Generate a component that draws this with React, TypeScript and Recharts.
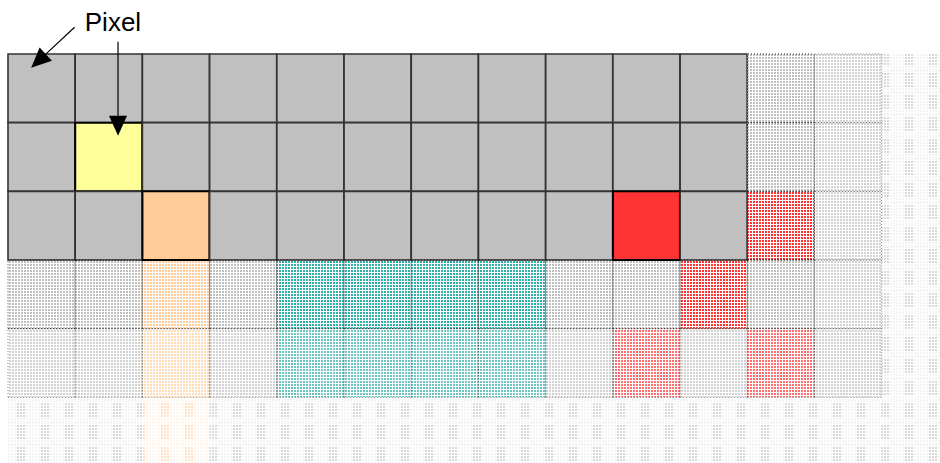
import React from 'react';
import { BarChart, Bar, Cell, XAxis, YAxis, ReferenceLine, ReferenceDot } from 'recharts';

// one entry per column of the pixel grid
const columns = ['c0', 'c1', 'c2', 'c3', 'c4', 'c5', 'c6', 'c7', 'c8', 'c9', 'c10', 'c11', 'c12', 'c13'];

// colour code of every pixel, row by row (g grey, y yellow, p peach, r red, t teal)
const row0 = ['g', 'g', 'g', 'g', 'g', 'g', 'g', 'g', 'g', 'g', 'g', 'g', 'g', 'g'];
const row1 = ['g', 'y', 'g', 'g', 'g', 'g', 'g', 'g', 'g', 'g', 'g', 'g', 'g', 'g'];
const row2 = ['g', 'g', 'p', 'g', 'g', 'g', 'g', 'g', 'g', 'r', 'g', 'r', 'g', 'g'];
const row3 = ['g', 'g', 'p', 'g', 't', 't', 't', 't', 'g', 'g', 'r', 'g', 'g', 'g'];
const row4 = ['g', 'g', 'p', 'g', 't', 't', 't', 't', 'g', 'r', 'g', 'r', 'g', 'g'];
const row5 = ['g', 'g', 'p', 'g', 'g', 'g', 'g', 'g', 'g', 'g', 'g', 'g', 'g', 'g'];

// how far each pixel has faded out (0 solid .. 3 almost gone)
const fade0 = [0, 0, 0, 0, 0, 0, 0, 0, 0, 0, 0, 1, 2, 3];
const fade1 = [0, 0, 0, 0, 0, 0, 0, 0, 0, 0, 0, 1, 2, 3];
const fade2 = [0, 0, 0, 0, 0, 0, 0, 0, 0, 0, 0, 1, 2, 3];
const fade3 = [1, 1, 1, 1, 1, 1, 1, 1, 1, 1, 1, 1, 2, 3];
const fade4 = [2, 2, 2, 2, 2, 2, 2, 2, 2, 2, 2, 2, 2, 3];
const fade5 = [3, 3, 3, 3, 3, 3, 3, 3, 3, 3, 3, 3, 3, 3];

const rowColors = [row0, row1, row2, row3, row4, row5];
const rowFades = [fade0, fade1, fade2, fade3, fade4, fade5];
const rowKeys = ['r0', 'r1', 'r2', 'r3', 'r4', 'r5'];

// annotation: label and two arrows, in grid units (column, row)
const labelText = 'Pixel';
const labelPos = { x: 1.45, y: -0.47 };
const arrowDiag = [{ x: 0.92, y: -0.39 }, { x: 0.32, y: 0.2 }];
const arrowDown = [{ x: 1.52, y: -0.18 }, { x: 1.52, y: 1.19 }];

const palette: Record<string, string> = {
  g: '#c0c0c0',
  y: '#ffff99',
  p: '#ffcc99',
  r: '#ff3333',
  t: '#2fb0a7',
};

const chartData = columns.map((col) => {
  const d: Record<string, string | number> = { col };
  rowKeys.forEach((k) => (d[k] = 1));
  return d;
});

const cellStyle = (code: string, level: number) => {
  if (level === 0) {
    return {
      fill: palette[code],
      stroke: code === 'g' ? '#333' : '#000',
      strokeWidth: code === 'g' ? 1.6 : 2,
    };
  }
  const fill = `url(#pat-${code}-${level})`;
  if (level === 1) return { fill, stroke: '#000', strokeWidth: 1, strokeDasharray: '1 2', strokeOpacity: 0.8 };
  if (level === 2) return { fill, stroke: '#000', strokeWidth: 1, strokeDasharray: '1 2', strokeOpacity: 0.5 };
  return { fill, stroke: 'none' };
};

const Arrow = (props: any) => {
  const { x1, y1, x2, y2 } = props;
  const dx = x2 - x1;
  const dy = y2 - y1;
  const len = Math.sqrt(dx * dx + dy * dy) || 1;
  const ux = dx / len;
  const uy = dy / len;
  const head = 20;
  const half = 9;
  const bx = x2 - ux * head;
  const by = y2 - uy * head;
  const pts = `${x2},${y2} ${bx - uy * half},${by + ux * half} ${bx + uy * half},${by - ux * half}`;
  return (
    <g>
      <line x1={x1} y1={y1} x2={bx} y2={by} stroke="#000" strokeWidth={1.2} />
      <polygon points={pts} fill="#000" />
    </g>
  );
};

export default function App() {
  return (
    <div style={{ position: 'absolute', left: 0, top: 0, width: 940, height: 463, overflow: 'hidden', background: '#fff' }}>
      <BarChart
        width={949}
        height={466}
        data={chartData}
        margin={{ top: 54, right: 0, bottom: 0, left: 8 }}
        barCategoryGap={0}
        barGap={0}
      >
        <defs>
          {Object.keys(palette).map((code) => (
            <React.Fragment key={code}>
              <pattern id={`pat-${code}-1`} width={3} height={3} patternUnits="userSpaceOnUse">
                <rect x={0} y={0} width={2} height={2} fill={palette[code]} />
              </pattern>
              <pattern id={`pat-${code}-2`} width={3} height={3} patternUnits="userSpaceOnUse">
                <rect x={0} y={0} width={2} height={2} fill={palette[code]} fillOpacity={0.7} />
              </pattern>
              <pattern id={`dots-${code}-3`} width={3} height={3} patternUnits="userSpaceOnUse">
                <rect x={0} y={0} width={2} height={2} fill={palette[code]} fillOpacity={0.55} />
              </pattern>
              <pattern id={`faint-${code}-3`} width={3} height={3} patternUnits="userSpaceOnUse">
                <rect x={0} y={0} width={2} height={2} fill={palette[code]} fillOpacity={0.18} />
              </pattern>
              <pattern id={`pat-${code}-3`} x={8} y={4} width={24} height={22} patternUnits="userSpaceOnUse">
                <rect x={0} y={0} width={24} height={22} fill={`url(#faint-${code}-3)`} />
                <rect x={9} y={3} width={9} height={14} fill={`url(#dots-${code}-3)`} />
              </pattern>
            </React.Fragment>
          ))}
        </defs>
        <XAxis dataKey="col" orientation="top" height={0} tick={false} tickLine={false} axisLine={{ stroke: '#a8a8a8', strokeWidth: 2 }} />
        <XAxis xAxisId="n" type="number" domain={[0, 14]} allowDataOverflow hide />
        <YAxis type="number" domain={[0, 6]} reversed width={0} tick={false} tickLine={false} axisLine={{ stroke: '#222', strokeWidth: 2 }} />
        {rowKeys.map((key, ri) => (
          <Bar key={key} dataKey={key} stackId="grid" isAnimationActive={false}>
            {columns.map((col, ci) => (
              <Cell key={col} {...cellStyle(rowColors[ri][ci], rowFades[ri][ci])} />
            ))}
          </Bar>
        ))}
        <ReferenceLine xAxisId="n" segment={arrowDiag} ifOverflow="visible" shape={Arrow} />
        <ReferenceLine xAxisId="n" segment={arrowDown} ifOverflow="visible" shape={Arrow} />
        <ReferenceDot
          xAxisId="n"
          x={labelPos.x}
          y={labelPos.y}
          r={0}
          fill="none"
          stroke="none"
          ifOverflow="visible"
          label={{ value: labelText, position: 'center', fontSize: 26, fill: '#000', fontFamily: 'Liberation Sans, Arial, sans-serif' }}
        />
      </BarChart>
    </div>
  );
}
